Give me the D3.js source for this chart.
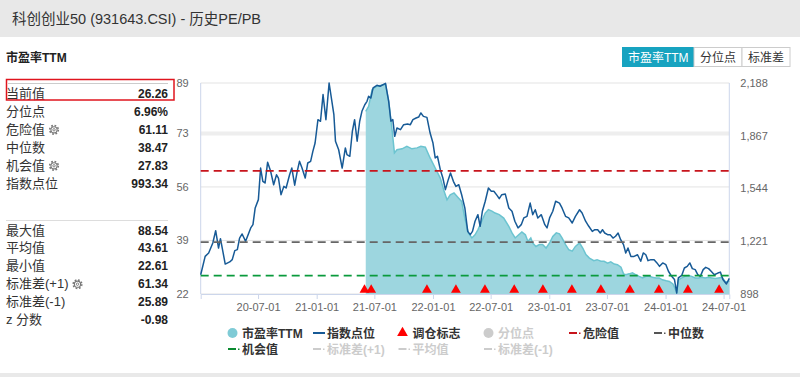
<!DOCTYPE html>
<html>
<head>
<meta charset="utf-8">
<script src="https://cdn.jsdelivr.net/npm/d3@7"></script>
<style>
  body { margin: 0; background: #fff; }
  svg { display: block; font-family: Arial, "Liberation Sans", "Noto Sans CJK SC", sans-serif; }
</style>
</head>
<body>
<script>
// ---- data ----
const titleText = '科创创业50 (931643.CSI) - 历史PE/PB'
const metricName = '市盈率TTM'

const statsTop = [
  ['当前值', '26.26'], ['分位点', '6.96%'], ['危险值', '61.11'],
  ['中位数', '38.47'], ['机会值', '27.83'], ['指数点位', '993.34']
]
const statsBottom = [
  ['最大值', '88.54'], ['平均值', '43.61'], ['最小值', '22.61'],
  ['标准差(+1)', '61.34'], ['标准差(-1)', '25.89'], ['z 分数', '-0.98']
]
const gearLabels = ['危险值', '机会值', '标准差(+1)']

const buttons = ['市盈率TTM', '分位点', '标准差']

const dangerValue = 61.11
const medianValue = 38.47
const chanceValue = 27.83

const leftTicks = [22, 39, 56, 73, 89]
const rightTicks = [898, 1221, 1544, 1867, 2188]
const dateTicks = ['2020-07-01', '2021-01-01', '2021-07-01', '2022-01-01', '2022-07-01',
  '2023-01-01', '2023-07-01', '2024-01-01', '2024-07-01']

// 指数点位 (right axis)
const indexSeries = [
  ['2020-01-03',1016],['2020-01-17',1128],['2020-01-28',1149],['2020-02-10',1210],['2020-02-19',1285],
  ['2020-02-28',1179],['2020-03-05',1236],['2020-03-20',1081],['2020-04-03',1094],['2020-04-11',1108],
  ['2020-04-19',1163],['2020-04-27',1169],['2020-05-04',1240],['2020-05-12',1265],['2020-05-23',1220],
  ['2020-06-08',1302],['2020-06-15',1322],['2020-06-22',1424],['2020-07-02',1475],['2020-07-09',1668],
  ['2020-07-16',1587],['2020-07-23',1577],['2020-07-31',1703],['2020-08-09',1652],['2020-08-19',1566],
  ['2020-08-28',1627],['2020-09-03',1607],['2020-09-11',1505],['2020-09-20',1556],['2020-09-27',1546],
  ['2020-10-08',1627],['2020-10-15',1668],['2020-10-24',1563],['2020-11-01',1648],['2020-11-08',1709],
  ['2020-11-16',1668],['2020-11-26',1607],['2020-12-04',1699],['2020-12-13',1709],['2020-12-20',1770],
  ['2020-12-27',1821],['2021-01-05',1964],['2021-01-13',1954],['2021-01-21',2117],['2021-01-30',1964],
  ['2021-02-09',2188],['2021-02-24',1994],['2021-03-01',1832],['2021-03-11',1780],['2021-03-22',1668],
  ['2021-04-01',1791],['2021-04-06',1750],['2021-04-15',1740],['2021-04-23',1893],['2021-04-30',1964],
  ['2021-05-08',1832],['2021-05-16',1954],['2021-05-23',2015],['2021-06-01',2055],['2021-06-08',2076],
  ['2021-06-13',2107],['2021-06-20',2096],['2021-06-27',2158],['2021-07-09',2174],['2021-07-19',2168],
  ['2021-08-05',2186],['2021-08-15',2076],['2021-08-22',1954],['2021-08-28',1964],['2021-09-03',1862],
  ['2021-09-10',1913],['2021-09-21',1903],['2021-10-01',1933],['2021-10-13',1937],['2021-10-22',1933],
  ['2021-10-30',1964],['2021-11-09',1974],['2021-11-17',1980],['2021-11-24',2005],['2021-12-02',1984],
  ['2021-12-13',1978],['2021-12-23',1882],['2022-01-01',1821],['2022-01-08',1730],['2022-01-15',1740],
  ['2022-01-24',1658],['2022-02-01',1607],['2022-02-09',1536],['2022-02-18',1597],['2022-02-25',1638],
  ['2022-03-06',1587],['2022-03-14',1556],['2022-03-23',1566],['2022-04-01',1505],['2022-04-11',1424],
  ['2022-04-20',1281],['2022-04-28',1261],['2022-05-05',1281],['2022-05-13',1343],['2022-05-22',1383],
  ['2022-05-29',1312],['2022-06-05',1404],['2022-06-14',1465],['2022-06-24',1546],['2022-07-03',1526],
  ['2022-07-11',1526],['2022-07-21',1501],['2022-07-28',1481],['2022-08-05',1505],['2022-08-16',1509],
  ['2022-08-27',1424],['2022-09-06',1404],['2022-09-15',1343],['2022-09-25',1302],['2022-10-05',1322],
  ['2022-10-13',1363],['2022-10-23',1373],['2022-11-02',1454],['2022-11-10',1383],['2022-11-18',1413],
  ['2022-11-26',1363],['2022-12-07',1383],['2022-12-18',1322],['2022-12-25',1302],['2023-01-02',1363],
  ['2023-01-12',1404],['2023-01-21',1465],['2023-02-02',1454],['2023-02-10',1424],['2023-02-21',1373],
  ['2023-03-03',1363],['2023-03-14',1332],['2023-03-24',1373],['2023-04-06',1413],['2023-04-14',1393],
  ['2023-04-25',1343],['2023-05-05',1312],['2023-05-16',1281],['2023-05-24',1291],['2023-06-02',1291],
  ['2023-06-10',1271],['2023-06-17',1291],['2023-06-24',1271],['2023-07-03',1261],['2023-07-11',1261],
  ['2023-07-20',1240],['2023-07-28',1251],['2023-08-05',1271],['2023-08-13',1230],['2023-08-22',1200],
  ['2023-08-29',1149],['2023-09-05',1179],['2023-09-14',1128],['2023-09-24',1128],['2023-10-05',1138],
  ['2023-10-15',1098],['2023-10-23',1149],['2023-10-31',1138],['2023-11-07',1102],['2023-11-16',1108],
  ['2023-11-26',1108],['2023-12-05',1088],['2023-12-13',1067],['2023-12-23',1088],['2024-01-02',1077],
  ['2024-01-10',1037],['2024-01-20',1006],['2024-01-29',986],['2024-02-05',904],['2024-02-10',996],
  ['2024-02-21',1012],['2024-02-29',1057],['2024-03-09',1067],['2024-03-17',1088],['2024-03-25',1053],
  ['2024-04-03',1047],['2024-04-11',1016],['2024-04-19',1006],['2024-04-28',1047],['2024-05-06',1061],
  ['2024-05-15',1053],['2024-05-23',1037],['2024-06-02',1016],['2024-06-13',1026],['2024-06-21',1032],
  ['2024-06-29',987],['2024-07-10',959],['2024-07-19',993.34]
]

// 市盈率TTM (left axis)
const peSeries = [
  ['2021-06-04',80.0],['2021-06-13',81.6],['2021-06-24',86.9],['2021-07-09',88.0],['2021-08-05',88.54],
  ['2021-08-15',83.2],['2021-08-25',74.7],['2021-09-02',66.8],['2021-09-10',67.8],['2021-09-26',68.1],
  ['2021-10-11',68.9],['2021-10-27',68.1],['2021-11-12',68.4],['2021-11-24',68.9],['2021-12-08',68.6],
  ['2021-12-23',65.2],['2022-01-08',62.0],['2022-01-24',58.8],['2022-02-05',54.6],['2022-02-14',51.9],
  ['2022-02-24',53.5],['2022-03-08',54.1],['2022-03-22',52.5],['2022-04-01',51.4],['2022-04-11',46.1],
  ['2022-04-22',41.4],['2022-05-03',39.8],['2022-05-13',40.8],['2022-05-22',42.4],['2022-06-03',45.1],
  ['2022-06-14',47.7],['2022-06-24',48.8],['2022-07-05',48.3],['2022-07-15',47.7],['2022-07-28',47.2],
  ['2022-08-11',46.1],['2022-08-27',43.5],['2022-09-06',41.4],['2022-09-16',39.8],['2022-09-27',40.8],
  ['2022-10-07',41.7],['2022-10-18',40.8],['2022-10-26',38.7],['2022-11-04',39.8],['2022-11-10',38.2],
  ['2022-11-20',37.1],['2022-12-01',37.7],['2022-12-11',37.7],['2022-12-22',36.6],['2023-01-02',38.2],
  ['2023-01-12',40.3],['2023-01-23',41.4],['2023-02-02',41.1],['2023-02-10',39.8],['2023-02-21',37.7],
  ['2023-03-03',36.1],['2023-03-14',35.6],['2023-03-24',37.1],['2023-04-06',38.2],['2023-04-16',36.6],
  ['2023-04-26',34.5],['2023-05-07',33.4],['2023-05-21',32.6],['2023-05-31',32.9],['2023-06-12',32.4],
  ['2023-06-22',32.4],['2023-07-03',31.8],['2023-07-13',32.2],['2023-07-24',31.5],['2023-08-03',31.3],
  ['2023-08-14',30.5],['2023-08-22',28.4],['2023-08-29',28.1],['2023-09-09',28.4],['2023-09-19',28.7],
  ['2023-09-30',28.1],['2023-10-10',27.6],['2023-10-21',27.1],['2023-10-31',27.6],['2023-11-11',27.6],
  ['2023-11-21',27.3],['2023-12-02',27.1],['2023-12-12',27.1],['2023-12-22',26.5],['2024-01-03',26.2],
  ['2024-01-13',26.0],['2024-01-24',25.2],['2024-02-05',22.61],['2024-02-10',26.5],['2024-02-21',27.1],
  ['2024-03-02',27.6],['2024-03-13',27.9],['2024-03-23',27.6],['2024-04-03',27.1],['2024-04-13',27.1],
  ['2024-04-24',27.3],['2024-05-04',27.1],['2024-05-15',27.3],['2024-05-25',27.1],['2024-06-05',26.9],
  ['2024-06-15',27.1],['2024-06-26',27.3],['2024-07-06',26.0],['2024-07-14',25.8],['2024-07-19',26.26]
]

// 调仓标志
const rebalanceDates = ['2021-05-31', '2021-06-21', '2021-12-13', '2022-03-14', '2022-06-13',
  '2022-09-13', '2022-12-12', '2023-03-13', '2023-06-12', '2023-09-11', '2023-12-11',
  '2024-03-11', '2024-06-17']

const legendRow1 = ['市盈率TTM', '指数点位', '调仓标志', '分位点', '危险值', '中位数']
const legendRow2 = ['机会值', '标准差(+1)', '平均值', '标准差(-1)']

// ---- drawing ----
const W = 800, H = 377
const parse = d3.timeParse('%Y-%m-%d')
const plot = {left: 200.7, right: 729.3, top: 83, bottom: 294}

const svg = d3.select('body').append('svg')
  .attr('width', W).attr('height', H)

svg.append('rect').attr('width', W).attr('height', H).attr('fill', '#fff')

// title bar
svg.append('rect').attr('x', 0).attr('y', 0).attr('width', W).attr('height', 37).attr('fill', '#e8e8e8')
svg.append('text').attr('x', 12).attr('y', 24).attr('font-size', 14.5).attr('fill', '#333').text(titleText)
svg.append('rect').attr('x', 0).attr('y', 373).attr('width', W).attr('height', 4).attr('fill', '#e9e9e9')

svg.append('text').attr('x', 6).attr('y', 62).attr('font-size', 12).attr('font-weight', 'bold')
  .attr('fill', '#222').text(metricName)

// stats panel
let gear = (x, y) => {
  let g = svg.append('g').attr('transform', `translate(${x},${y})`)
  g.append('circle').attr('r', 4.3).attr('fill', 'none').attr('stroke', '#777')
    .attr('stroke-width', 1.6).attr('stroke-dasharray', '1.7,1.68')
  g.append('circle').attr('r', 3.1).attr('fill', '#fff').attr('stroke', '#777').attr('stroke-width', 1.1)
  g.append('circle').attr('r', 1.2).attr('fill', 'none').attr('stroke', '#777').attr('stroke-width', 0.9)
}

let statRows = (rows, y0, step) => {
  rows.forEach((r, i) => {
    let y = y0 + i * step
    let lbl = svg.append('text').attr('x', 6).attr('y', y + 4.5).attr('font-size', 13).attr('fill', '#333').text(r[0])
    svg.append('text').attr('x', 168).attr('y', y + 4.5).attr('font-size', 12).attr('font-weight', 'bold')
      .attr('text-anchor', 'end').attr('fill', '#222').text(r[1])
    if (gearLabels.includes(r[0])) {
      let end = 6 + lbl.node().getComputedTextLength()
      gear(Math.max(end + 9, r[0].length > 3 ? 72.5 : 52.3), y + 0.5)
    }
  })
}

svg.append('line').attr('x1', 8).attr('x2', 168).attr('y1', 83.5).attr('y2', 83.5).attr('stroke', '#ccc')
statRows(statsTop, 93.3, 18)
svg.append('rect').attr('x', 6.5).attr('y', 79.5).attr('width', 167.5).attr('height', 20.5)
  .attr('fill', 'none').attr('stroke', '#e0141e').attr('stroke-width', 1.5)
svg.append('line').attr('x1', 6).attr('x2', 168).attr('y1', 220.5).attr('y2', 220.5).attr('stroke', '#ddd')
statRows(statsBottom, 230, 17.9)

// buttons
const btnX = [622.5, 694, 742, 790]
buttons.forEach((b, i) => {
  let active = i === 0
  svg.append('rect').attr('x', btnX[i]).attr('y', 47.5).attr('width', btnX[i + 1] - btnX[i]).attr('height', 19)
    .attr('fill', active ? '#17a3c0' : '#fff').attr('stroke', active ? '#17a3c0' : '#ccc')
  svg.append('text').attr('x', (btnX[i] + btnX[i + 1]) / 2).attr('y', 61.5).attr('text-anchor', 'middle')
    .attr('font-size', 12).attr('fill', active ? '#fff' : '#333').text(b)
})

// scales
const x = d3.scaleTime().domain([parse('2020-01-03'), parse('2024-07-19')]).range([plot.left, plot.right])
const yL = d3.scaleLinear().domain([22, 89]).range([plot.bottom, plot.top])
const yR = d3.scaleLinear().domain([898, 2188]).range([plot.bottom, plot.top])

// gridlines
leftTicks.forEach(t => {
  svg.append('line').attr('x1', plot.left).attr('x2', plot.right).attr('y1', yL(t)).attr('y2', yL(t))
    .attr('stroke', t === 73 ? '#eeeeee' : '#e3e3e3').attr('stroke-width', t === 73 ? 4 : 1)
})
svg.append('line').attr('x1', plot.left).attr('x2', plot.left).attr('y1', plot.top).attr('y2', plot.bottom)
  .attr('stroke', '#ccd6eb')
svg.append('line').attr('x1', plot.right).attr('x2', plot.right).attr('y1', plot.top).attr('y2', plot.bottom)
  .attr('stroke', '#ccd6eb')

// PE area
const pe = peSeries.map(d => ({date: parse(d[0]), v: d[1]}))
svg.append('path').datum(pe)
  .attr('fill', '#9dd6df')
  .attr('d', d3.area().x(d => x(d.date)).y0(plot.bottom).y1(d => yL(d.v)))
svg.append('path').datum(pe)
  .attr('fill', 'none').attr('stroke', '#6cc4d0').attr('stroke-width', 1.5)
  .attr('d', d3.line().x(d => x(d.date)).y(d => yL(d.v)))

// index line
const idx = indexSeries.map(d => ({date: parse(d[0]), v: d[1]}))
svg.append('path').datum(idx)
  .attr('fill', 'none').attr('stroke', '#175a96').attr('stroke-width', 1.5).attr('stroke-linejoin', 'round')
  .attr('d', d3.line().x(d => x(d.date)).y(d => yR(d.v)))

// level lines
;[[dangerValue, '#c7141c'], [medianValue, '#666'], [chanceValue, '#0a9a3c']].forEach(l => {
  svg.append('line').attr('x1', plot.left).attr('x2', plot.right).attr('y1', yL(l[0])).attr('y2', yL(l[0]))
    .attr('stroke', l[1]).attr('stroke-width', 1.8).attr('stroke-dasharray', '8,5')
})

// x axis
const xAxis = d3.axisBottom(x).tickValues(dateTicks.map(parse)).tickFormat(d3.timeFormat('%y-%m-%d'))
  .tickSize(5).tickPadding(4)
const gx = svg.append('g').attr('transform', `translate(0,${plot.bottom})`).call(xAxis)
gx.select('.domain').attr('stroke', '#ccd6eb')
gx.selectAll('.tick line').attr('stroke', '#ccd6eb')
gx.selectAll('text').attr('font-size', 11).attr('fill', '#666').attr('font-family', null)

// rebalance triangles
svg.selectAll('.tri').data(rebalanceDates.map(parse)).enter().append('path')
  .attr('transform', d => `translate(${x(d)},${plot.bottom - 4})`)
  .attr('d', d3.symbol().type(d3.symbolTriangle).size(42))
  .attr('fill', '#f00')

// y axes
const gl = svg.append('g').attr('transform', `translate(${plot.left},0)`)
  .call(d3.axisLeft(yL).tickValues(leftTicks).tickSize(0).tickPadding(12))
gl.select('.domain').remove()
gl.selectAll('text').attr('font-size', 11).attr('fill', '#666').attr('font-family', null)

const gr = svg.append('g').attr('transform', `translate(${plot.right},0)`)
  .call(d3.axisRight(yR).tickValues(rightTicks).tickFormat(d3.format(',')).tickSize(0).tickPadding(11))
gr.select('.domain').remove()
gr.selectAll('text').attr('font-size', 11).attr('fill', '#666').attr('font-family', null)

// legend
const legCols = [228, 313, 398.5, 484, 569, 654]
let legendItem = (name, col, y) => {
  let cx = legCols[col]
  let off = ['分位点', '标准差(+1)', '平均值', '标准差(-1)'].includes(name)
  let g = svg.append('g')
  if (name === '市盈率TTM') {
    g.append('circle').attr('cx', cx + 4.5).attr('cy', y).attr('r', 5).attr('fill', '#7fcbd6')
  } else if (name === '分位点') {
    g.append('circle').attr('cx', cx + 4.5).attr('cy', y).attr('r', 5).attr('fill', '#ccc')
  } else if (name === '指数点位') {
    g.append('line').attr('x1', cx).attr('x2', cx + 12).attr('y1', y).attr('y2', y)
      .attr('stroke', '#175a96').attr('stroke-width', 2)
  } else if (name === '调仓标志') {
    g.append('path').attr('transform', `translate(${cx + 4},${y})`)
      .attr('d', d3.symbol().type(d3.symbolTriangle).size(50)).attr('fill', '#f00')
  } else {
    let c = off ? '#ccc' : {危险值: '#c7141c', 中位数: '#555', 机会值: '#0a8a30'}[name]
    g.append('line').attr('x1', cx).attr('x2', cx + 8).attr('y1', y).attr('y2', y)
      .attr('stroke', c).attr('stroke-width', 2)
    g.append('rect').attr('x', cx + 10).attr('y', y - 0.5).attr('width', 1.5).attr('height', 1.5).attr('fill', c)
  }
  g.append('text').attr('x', cx + 14).attr('y', y + 4.5).attr('font-size', 12).attr('font-weight', 'bold')
    .attr('fill', off ? '#ccc' : '#333').text(name)
}
legendRow1.forEach((n, i) => legendItem(n, i, 333))
legendRow2.forEach((n, i) => legendItem(n, i, 349))
</script>
</body>
</html>
